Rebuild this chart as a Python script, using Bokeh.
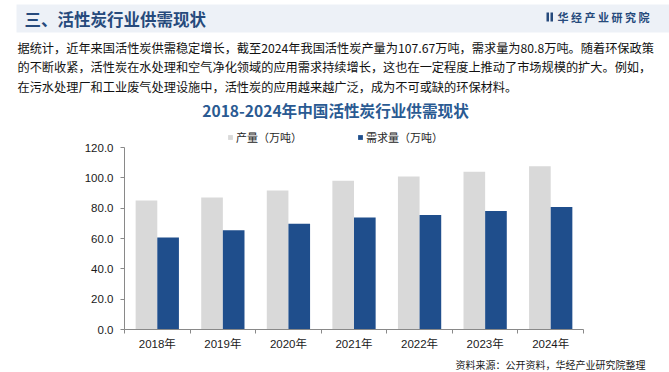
from bokeh.plotting import figure
from bokeh.layouts import column
from bokeh.models import (Range1d, FixedTicker, NumeralTickFormatter, Legend, LegendItem,
                          ColumnDataSource)
from bokeh.transform import dodge
from bokeh.core.properties import value
from bokeh.embed import file_html
from bokeh.resources import INLINE

# ---------------- data ----------------
years = ["2018年", "2019年", "2020年", "2021年", "2022年", "2023年", "2024年"]
production = [85.0, 87.1, 91.7, 98.1, 100.9, 104.0, 107.67]
demand = [60.6, 65.5, 69.8, 73.8, 75.5, 78.2, 80.8]
series_names = ["产量（万吨）", "需求量（万吨）"]
y_ticks = [0, 20, 40, 60, 80, 100, 120]

header_title = "三、活性炭行业供需现状"
logo_text = "华 经 产 业 研 究 院"
paragraph = [
    "据统计，近年来国活性炭供需稳定增长，截至2024年我国活性炭产量为107.67万吨，需求量为80.8万吨。随着环保政策",
    "的不断收紧，活性炭在水处理和空气净化领域的应用需求持续增长，这也在一定程度上推动了市场规模的扩大。例如，",
    "在污水处理厂和工业废气处理设施中，活性炭的应用越来越广泛，成为不可或缺的环保材料。",
]
chart_title = "2018-2024年中国活性炭行业供需现状"
source_text = "资料来源：公开资料，华经产业研究院整理"

CJK = "Noto Sans CJK SC"
LATIN = "Liberation Sans, Noto Sans CJK SC"
W, H = 669, 372
TOP_H = 123
BL, BR, BB = 124, 86, 29
FRAME_H = 206          # chart frame height (page y 123 .. 329)
PX_120 = 182           # pixels spanned by 0..120
CHART_H = FRAME_H + BB
BOT_H = H - TOP_H - CHART_H

GRAY = "#d9d9d9"
BLUE = "#1f4e8c"
NAVY = "#264a7c"
AXIS = "#898989"


def blank(h, y0):
    f = figure(width=W, height=h, x_range=Range1d(0, W), y_range=Range1d(y0 + h, y0),
               output_backend="svg", toolbar_location=None, min_border=0, frame_align=False)
    f.axis.visible = False
    f.grid.visible = False
    f.outline_line_color = None
    f.background_fill_color = "white"
    f.border_fill_color = "white"
    return f


# ---------------- top part (coordinates = page pixels) ----------------
top = blank(TOP_H, 0)
top.quad(left=[16], right=[W], top=[4], bottom=[32], fill_color="#edf1f7", line_color=None)
top.text(x=[24], y=[18], text=[header_title], text_font=value(CJK), text_font_size="16.5px",
         text_font_style="bold", text_color=NAVY, text_baseline="middle")
top.quad(left=[546, 550], right=[548.5, 552.5], top=[12, 12], bottom=[21, 21],
         fill_color=NAVY, line_color=None)
top.text(x=[557], y=[16.5], text=[logo_text], text_font=value(CJK), text_font_size="11px",
         text_font_style="bold", text_color=NAVY, text_baseline="middle")
top.text(x=[17, 17, 17], y=[47, 66.5, 86], text=paragraph, text_font=value(CJK),
         text_font_size="12.2px", text_color="#111111", text_baseline="middle")
top.text(x=[335], y=[109], text=[chart_title], text_font=value(CJK), text_font_size="15.6px",
         text_font_style="bold", text_color="#2a5a92", text_align="center", text_baseline="middle")

# ---------------- chart ----------------
n = len(years)
src = ColumnDataSource(dict(x=[i + 0.5 for i in range(n)], prod=production, dem=demand))
y_top = 120 * FRAME_H / PX_120
p = figure(width=W, height=CHART_H, x_range=Range1d(0, n), y_range=Range1d(0, y_top),
           output_backend="svg", toolbar_location=None, frame_align=False,
           min_border_left=BL, min_border_right=BR, min_border_top=0, min_border_bottom=BB)
p.outline_line_color = None
p.grid.visible = False
p.background_fill_color = "white"
p.border_fill_color = "white"

r1 = p.vbar(x=dodge("x", -0.165), top="prod", width=0.33, source=src,
            fill_color=GRAY, line_color=None)
r2 = p.vbar(x=dodge("x", 0.165), top="dem", width=0.33, source=src,
            fill_color=BLUE, line_color=None)

xa = p.xaxis[0]
xa.ticker = FixedTicker(ticks=[i + 0.5 for i in range(n)], minor_ticks=list(range(n + 1)))
xa.major_label_overrides = {i + 0.5: years[i] for i in range(n)}
xa.major_tick_out = 0
xa.major_tick_in = 0
xa.minor_tick_out = 4
xa.minor_tick_in = 0
xa.minor_tick_line_color = AXIS
xa.axis_line_color = AXIS
xa.major_label_text_font = LATIN
xa.major_label_text_font_size = "11.5px"
xa.major_label_text_color = "#1a1a1a"
xa.major_label_standoff = 4

ya = p.yaxis[0]
ya.ticker = FixedTicker(ticks=y_ticks)
ya.bounds = (0, 120)
ya.formatter = NumeralTickFormatter(format="0.0")
ya.major_tick_out = 4
ya.major_tick_in = 0
ya.minor_tick_line_color = None
ya.major_tick_line_color = AXIS
ya.axis_line_color = AXIS
ya.major_label_text_font = "Liberation Sans"
ya.major_label_text_font_size = "11.5px"
ya.major_label_text_color = "#1a1a1a"
ya.major_label_standoff = 7

legend = Legend(items=[LegendItem(label=series_names[0], renderers=[r1]),
                       LegendItem(label=series_names[1], renderers=[r2])],
                orientation="horizontal", location=(103, 184),
                glyph_width=6, glyph_height=6, label_standoff=3, spacing=55,
                label_text_font=CJK, label_text_font_size="11px", label_text_color="#262626",
                label_height=14, padding=0, margin=0, border_line_color=None,
                background_fill_alpha=0)
p.add_layout(legend)

# ---------------- bottom ----------------
bot = blank(BOT_H, 0)
bot.text(x=[645], y=[6], text=[source_text], text_font=value(CJK), text_font_size="10px",
         text_color="#1a1a1a", text_align="right", text_baseline="middle")

layout = column(top, p, bot)
open("out.html", "w").write(file_html(layout, INLINE))
